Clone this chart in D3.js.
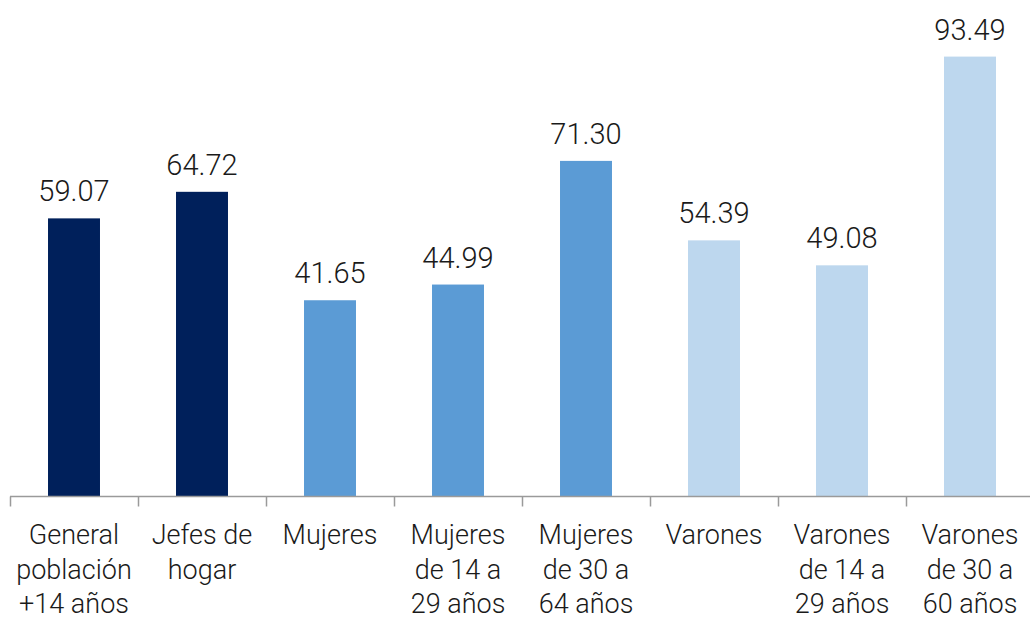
<!DOCTYPE html>
<html>
<head>
<meta charset="utf-8">
<script src="https://cdn.jsdelivr.net/npm/d3@7"></script>
<style>
  body { margin: 0; background: #fff; }
  svg text { font-family: Roboto, "Open Sans", sans-serif; font-weight: 300; fill: #1a1a1a; }
</style>
</head>
<body>
<div id="chart"></div>
<script>
// data
var categories = ["General población +14 años", "Jefes de hogar", "Mujeres", "Mujeres de 14 a 29 años",
  "Mujeres de 30 a 64 años", "Varones", "Varones de 14 a 29 años", "Varones de 30 a 60 años"];
var labelLines = [["General", "población", "+14 años"], ["Jefes de", "hogar"], ["Mujeres"],
  ["Mujeres", "de 14 a", "29 años"], ["Mujeres", "de 30 a", "64 años"], ["Varones"],
  ["Varones", "de 14 a", "29 años"], ["Varones", "de 30 a", "60 años"]];
var values = [59.07, 64.72, 41.65, 44.99, 71.30, 54.39, 49.08, 93.49];
var groupOf = ["total", "total", "mujeres", "mujeres", "mujeres", "varones", "varones", "varones"];

var width = 1030, height = 620;
var margin = {top: 26, left: 10, bottom: 124};

var svg = d3.select("#chart").append("svg")
  .attr("width", width)
  .attr("height", height);

var x = d3.scaleBand()
  .domain(categories)
  .range([margin.left, margin.left + 128 * categories.length])
  .paddingInner(0.594)
  .paddingOuter(0.297);

var y = d3.scaleLinear()
  .domain([0, 100])
  .range([height - margin.bottom, margin.top]);

var color = d3.scaleOrdinal()
  .domain(["total", "mujeres", "varones"])
  .range(["#00205b", "#5b9bd5", "#bdd7ee"]);

// bars
svg.append("g")
  .selectAll("rect")
  .data(values)
  .enter().append("rect")
    .attr("x", function(d, i) { return x(categories[i]); })
    .attr("y", function(d) { return y(d); })
    .attr("width", x.bandwidth())
    .attr("height", function(d) { return y(0) - y(d); })
    .attr("fill", function(d, i) { return color(groupOf[i]); });

// value labels
svg.append("g")
  .selectAll("text")
  .data(values)
  .enter().append("text")
    .attr("x", function(d, i) { return x(categories[i]) + x.bandwidth() / 2; })
    .attr("y", function(d) { return y(d) - 17; })
    .attr("text-anchor", "middle")
    .style("font-size", "29px")
    .text(function(d) { return d.toFixed(2); });

// x axis: line + ticks between categories
var axis = svg.append("g");
var base = y(0) + 0.5;
axis.append("line")
  .attr("x1", margin.left).attr("x2", width)
  .attr("y1", base).attr("y2", base)
  .attr("stroke", "#9a9a9a").attr("stroke-width", 1.5);
var step = x.step();
axis.selectAll(".tick")
  .data(d3.range(categories.length + 1))
  .enter().append("line")
    .attr("x1", function(i) { return Math.round(margin.left + i * step) + 0.5; })
    .attr("x2", function(i) { return Math.round(margin.left + i * step) + 0.5; })
    .attr("y1", base).attr("y2", base + 10)
    .attr("stroke", "#9a9a9a").attr("stroke-width", 1.5);

// category labels
var lab = svg.append("g")
  .selectAll("text")
  .data(categories)
  .enter().append("text")
    .attr("x", function(d) { return x(d) + x.bandwidth() / 2; })
    .attr("y", 544)
    .attr("text-anchor", "middle")
    .style("font-size", "27px");
lab.each(function(d, i) {
  var t = d3.select(this);
  labelLines[i].forEach(function(line, j) {
    t.append("tspan")
      .attr("x", x(d) + x.bandwidth() / 2)
      .attr("dy", j === 0 ? 0 : 34.5)
      .text(line);
  });
});
</script>
</body>
</html>
